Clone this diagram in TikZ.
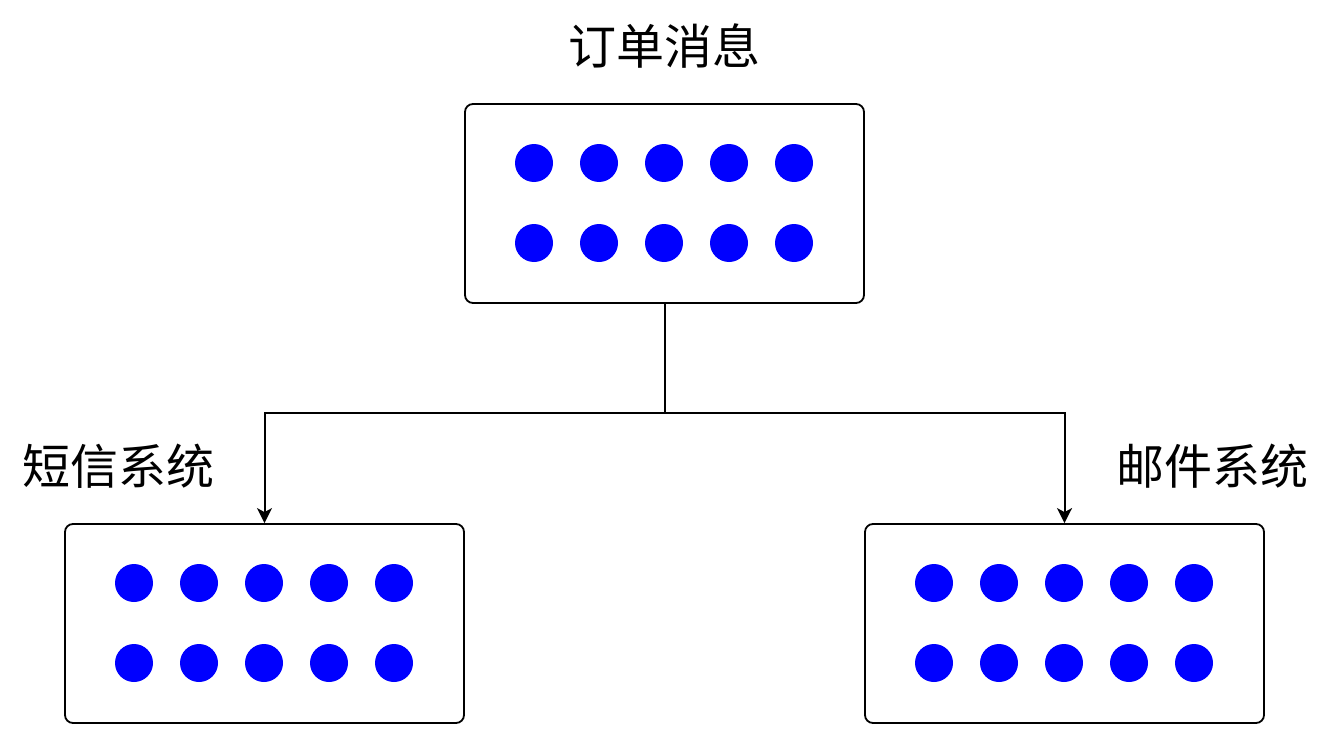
\documentclass[tikz,border=0pt]{standalone}
\usepackage{fontspec}
\newfontfamily\cjk{Noto Sans CJK SC}
\usetikzlibrary{arrows.meta}
\begin{document}
\begin{tikzpicture}[x=1pt,y=-1pt,
  box/.style={draw=black,line width=1.8pt,rounded corners=8pt,minimum width=399pt,minimum height=199pt,inner sep=0pt,fill=white},
  dot/.style={circle,fill=blue,draw=none,minimum size=38pt,inner sep=0pt},
  lbl/.style={font=\cjk\fontsize{48}{56}\selectfont,inner sep=0pt,anchor=center},
  conn/.style={line width=2pt,draw=black},
  arr/.style={conn,-{Stealth[length=15pt,width=15pt,inset=4pt]}}]
\useasboundingbox (0,0) rectangle (1332,741);
\node[box] (top) at (664.5,203.5) {};
\node[box] (left) at (264.5,623.5) {};
\node[box] (right) at (1064.5,623.5) {};
\foreach \bx/\by/\n in {534/163/t,134/583/l,934/583/r}{
  \foreach \i in {0,...,4}{
    \node[dot] (\n a\i) at (\bx+65*\i,\by) {};
    \node[dot] (\n b\i) at (\bx+65*\i,\by+80) {};
  }
}
\node[lbl] (ttop) at (664,46) {订单消息};
\node[lbl] (tleft) at (118,466) {短信系统};
\node[lbl] (tright) at (1212,466) {邮件系统};
\coordinate (j) at (664.5,413);
\draw[conn] (top.south) -- (j);
\draw[arr] (j) -| (left.north);
\draw[arr] (j) -| (right.north);
\end{tikzpicture}
\end{document}
